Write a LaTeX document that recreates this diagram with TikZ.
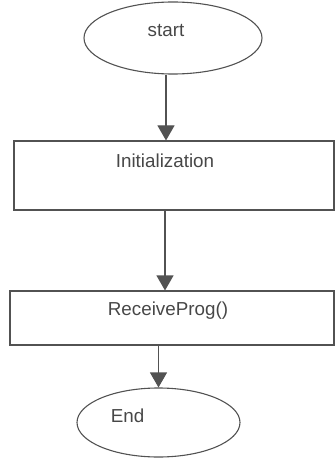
\documentclass[tikz,border=0pt]{standalone}
\usepackage{fontspec}
\setmainfont{Liberation Sans}
\usepackage{tikz}
\usetikzlibrary{arrows.meta, shapes.geometric}

\begin{document}
\begin{tikzpicture}[x=0.5pt, y=-0.5pt,
	every node/.style={inner sep=0pt, text=black!72, font=\fontsize{9.4}{11}\selectfont},
	flowline/.style={draw=black!68, line width=0.55pt},
	termnode/.style={ellipse, flowline},
	procbox/.style={rectangle, flowline},
	arr/.style={flowline, -{Triangle[width=8.5pt, length=7.5pt]}}]
\useasboundingbox (0,0) rectangle (335,460);
% terminals and boxes
\node[termnode, minimum width=89pt, minimum height=36pt] (start) at (173,38) {};
\node (startlbl) at (166,31) {start};
\node[procbox, minimum width=160pt, minimum height=34.5pt] (init) at (174,175.5) {};
\node (initlbl) at (165,161) {Initialization};
\node[procbox, minimum width=162pt, minimum height=27pt] (recv) at (172,318) {};
\node (recvlbl) at (168,311) {ReceiveProg()};
\node[termnode, minimum width=81.5pt, minimum height=34.5pt] (end) at (158.5,422.5) {};
\node (endlbl) at (127.5,415.5) {End};
% connectors
\draw[arr] (startlbl |- start.south) -- (startlbl |- init.north);
\draw[arr] (initlbl |- init.south) -- (initlbl |- recv.north);
\draw[arr] (recv.south -| end.north) -- (end.north);
\end{tikzpicture}
\end{document}
